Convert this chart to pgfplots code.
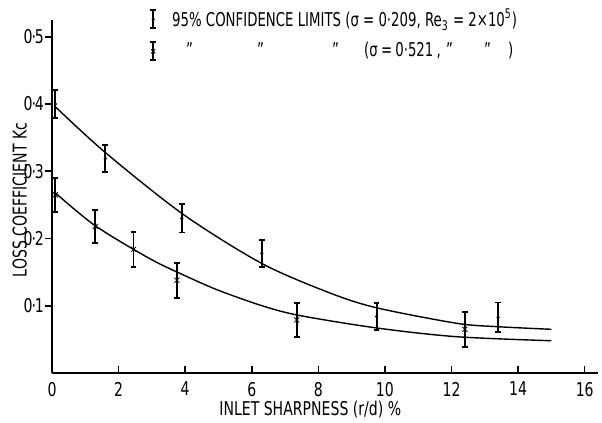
\documentclass[border=0pt]{standalone}
\usepackage{fontspec}
\setmainfont{DejaVu Sans}[FakeStretch=0.74]
\newfontfamily\legfont{DejaVu Sans}[FakeStretch=0.70]
\usepackage{pgfplots}
\pgfplotsset{compat=1.18}

\begin{document}
\begin{tikzpicture}
\begin{axis}[
  scale only axis,
  width=273pt, height=176.5pt,
  xmin=0, xmax=16.4, ymin=0, ymax=0.525,
  axis lines=left,
  axis line style={-, line width=0.9pt},
  xtick={0,2,...,16},
  xticklabels={0,2,4,6,8,10,12,14,16},
  ytick={0.1,0.2,0.3,0.4,0.5},
  yticklabels={0\kern-0.5pt·\kern-0.5pt1,0\kern-0.5pt·\kern-0.5pt2,0\kern-0.5pt·\kern-0.5pt3,0\kern-0.5pt·\kern-0.5pt4,0\kern-0.5pt·\kern-0.5pt5},
  tick align=inside,
  major tick length=3.5pt,
  tick style={black, line width=0.8pt},
  ytick style={xshift=-3.5pt},
  font=\fontsize{9.5}{11}\selectfont,
  xticklabel style={yshift=-1pt},
  yticklabel style={xshift=-0.5pt},
  xlabel={INLET SHARPNESS (r/d) \%},
  ylabel={LOSS COEFFICIENT Kc},
  every axis x label/.style={at={(axis description cs:0.473,0)}, anchor=center, yshift=-18.5pt},
  every axis y label/.style={at={(axis description cs:-0.059,0.49)}, rotate=90, anchor=center},
  clip=false,
  legend cell align=left,
  legend style={draw=none, fill=none, inner sep=0pt, at={(axis description cs:0.170,1.043)}, anchor=north west,
    row sep=2.5pt, font=\legfont\fontsize{9.5}{11}\selectfont},
]

% fitted curves
\addplot[black, line width=0.7pt, smooth, forget plot] coordinates {
  (0.1,0.396) (1.6,0.328) (3.94,0.236) (6.3,0.163) (8.35,0.119)
  (9.75,0.097) (12.15,0.074) (13.35,0.069) (15,0.065)
};
\addplot[black, line width=0.7pt, smooth, forget plot] coordinates {
  (0.1,0.268) (1.3,0.219) (2.94,0.170) (3.94,0.146) (4.95,0.124)
  (6.25,0.101) (7.39,0.086) (9.75,0.067) (12.15,0.054) (15,0.048)
};

% sigma = 0.209
\addplot[black, only marks, mark=*, mark size=0.6pt,
  legend image code/.code={
    \path[draw=none, fill=none] (0pt,0pt) rectangle (11.5pt,0.1pt);
    \draw[black, line width=0.9pt] (4pt,-4.5pt) -- (4pt,4.5pt)
      (2.6pt,-4.5pt) -- (5.4pt,-4.5pt) (2.6pt,4.5pt) -- (5.4pt,4.5pt);
    \fill[black] (4pt,0pt) circle (0.6pt);},
  error bars/.cd, y dir=both, y explicit,
  error bar style={line width=0.9pt},
  error mark options={rotate=90, mark size=1.4pt, line width=0.9pt}]
  table[x=x, y=y, y error=e] {
    x y e
    0.1 0.400 0.021
    1.6 0.319 0.020
    3.9 0.230 0.021
    6.3 0.178 0.020
    9.75 0.084 0.020
    13.4 0.083 0.022
  };
\addlegendentry{95\% CONFIDENCE LIMITS (σ = 0·209, Re\textsubscript{3} = 2×10\textsuperscript{5})}

% sigma = 0.521
\addplot[black, only marks, mark=x, mark size=1.8pt,
  legend image code/.code={
    \path[draw=none, fill=none] (0pt,0pt) rectangle (11.5pt,0.1pt);
    \draw[black, line width=0.9pt] (4pt,-4.5pt) -- (4pt,4.5pt)
      (2.6pt,-4.5pt) -- (5.4pt,-4.5pt) (2.6pt,4.5pt) -- (5.4pt,4.5pt);
    \draw[black, line width=0.5pt] (3pt,-1pt) -- (5pt,1pt) (3pt,1pt) -- (5pt,-1pt);},
  error bars/.cd, y dir=both, y explicit,
  error bar style={line width=0.9pt},
  error mark options={rotate=90, mark size=1.4pt, line width=0.9pt}]
  table[x=x, y=y, y error=e] {
    x y e
    0.1 0.265 0.025
    1.3 0.218 0.025
    2.45 0.184 0.026
    3.75 0.138 0.026
    7.35 0.079 0.025
    12.4 0.065 0.026
  };
\addlegendentry{\rlap{\hspace*{7pt}”}\rlap{\hspace*{42.5pt}”}\rlap{\hspace*{80pt}”}\rlap{\hspace*{96pt}(σ\,=\,0·521\,,}\rlap{\hspace*{137pt}”}\rlap{\hspace*{156pt}”}\hspace*{168pt})}

\end{axis}
\pgfresetboundingbox
\path ([xshift=-26pt, yshift=-24.5pt]current axis.south west)
  rectangle ([xshift=2pt, yshift=10pt]current axis.north east);
\end{tikzpicture}
\end{document}
